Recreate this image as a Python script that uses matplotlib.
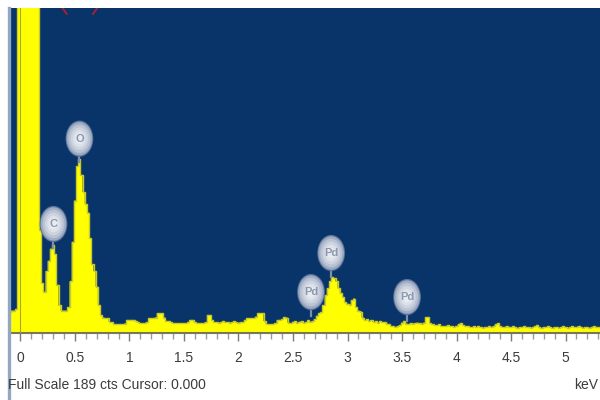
import numpy as np
import matplotlib
matplotlib.use("Agg")
import matplotlib.pyplot as plt
from matplotlib.patches import Ellipse
from matplotlib.lines import Line2D

# EDS spectrum: counts per 0.02 keV channel, starting at -0.10 keV
energy_start = -0.10
energy_step = 0.02
counts = [
    12, 13, 13, 14, 400, 400, 400, 400, 400, 400,
    400, 400, 400, 200, 60, 29, 24, 36, 42, 49,
    51, 46, 28, 16, 13, 13, 13, 15, 30, 53,
    77, 97, 101, 92, 82, 75, 70, 55, 40, 36,
    27, 16, 10.5, 9, 8.7, 8.5, 6.4, 6.4, 5, 5,
    5, 5, 5, 5.5, 7.6, 7.6, 7.6, 7.6, 7, 6.4,
    5.8, 5.8, 5.8, 6.4, 8.7, 8.7, 8.7, 9, 11.6, 11.6,
    11.6, 9, 7, 7, 6.4, 5.8, 5.8, 5.8, 5.8, 5.8,
    5.8, 5.8, 6.4, 7.6, 7.6, 6.4, 5.8, 5.8, 5.8, 5.8,
    6.4, 10.5, 10.5, 7.6, 6.4, 6.4, 6.0, 6.4, 7.0, 6.4,
    6.4, 6.0, 6.4, 6.8, 6.4, 6.0, 6.4, 6.4, 7.6, 8.7,
    8.7, 8.7, 8.7, 9.5, 11.6, 11.6, 11.6, 7, 5.2, 5.2,
    5.2, 5.2, 5.8, 7.6, 7.6, 8, 9.3, 9, 6, 5.8,
    6.5, 7, 6, 6.5, 7, 6, 6.4, 7.5, 6.5, 7,
    8, 10, 11.6, 12, 16, 22, 26, 30, 32.6, 32,
    30, 26, 23, 21, 18, 17, 16.5, 19, 20, 15,
    13, 12.5, 9, 7.5, 8, 7, 7.5, 6.4, 7, 6,
    7, 6.4, 6.4, 5.5, 5, 4, 4, 3.5, 4, 4.5,
    6, 7, 5.5, 5, 5.8, 5.5, 5.8, 6, 5.8, 5,
    6, 9.3, 9.3, 5.8, 5, 4.5, 4.5, 5, 4, 4,
    4, 4.5, 4, 4, 3.5, 4, 5, 5.8, 4.5, 4,
    4, 3.5, 3.5, 4, 3.5, 4, 3.5, 3, 3.5, 3.5,
    4, 3.5, 4, 5, 5.8, 4, 3.5, 3.5, 4, 3.5,
    3.5, 4, 3.5, 3, 3.5, 3.5, 4, 3.5, 3.5, 3,
    3.5, 4, 4.5, 3.5, 3, 3.5, 3.5, 4, 3.5, 3,
    3.5, 3.5, 3, 3.5, 4, 3.5, 3, 3.5, 4, 3.5,
    3.5, 4, 3.5, 3, 3.5, 3.5, 3, 3.5, 4, 3.5,
    3.5, 3.5,
]

# Element markers: label, energy (keV), marker height (counts)
elements = ["C", "O", "Pd", "Pd", "Pd"]
element_energy = [0.303, 0.541, 2.665, 2.85, 3.546]
element_height = [63.4, 113.0, 23.8, 46.5, 20.9]

full_scale = 189
cursor_keV = 0.0
tick_values = [0, 0.5, 1, 1.5, 2, 2.5, 3, 3.5, 4, 4.5, 5]
tick_labels = ["0", "0.5", "1", "1.5", "2", "2.5", "3", "3.5", "4", "4.5", "5"]

energy = energy_start + energy_step * np.arange(len(counts))
counts = np.array(counts, dtype=float)

narrow = ["Liberation Sans Narrow", "Liberation Sans", "DejaVu Sans"]

fig = plt.figure(figsize=(6, 4), dpi=100)
fig.patch.set_facecolor("white")
ax = fig.add_axes([10 / 600, 1 - 333 / 400, 590 / 600, (333 - 8) / 400])
ax.set_facecolor("#08346a")

ax.set_xlim(-0.096, 5.316)
ax.set_ylim(0, full_scale)

# spectrum
ax.fill_between(energy, 0, counts, step="mid", color="#ffff00", lw=0, zorder=2)
ax.step(energy, counts, where="mid", color="#c9c92a", lw=1.0, zorder=3)

# cursor line
ax.axvline(cursor_keV, color="#a6a622", lw=0.8, zorder=4)

# element label balloons
ew, eh = 0.235, 19.5
shades = ["#5d7499", "#9eabc2", "#b9c3d4", "#cdd4e0", "#dde2ea", "#e8ebf0"]
scales = [1.08, 1.0, 0.85, 0.68, 0.5, 0.32]
for lab, ex, ey in zip(elements, element_energy, element_height):
    ax.plot([ex, ex], [ey - eh / 2 - 4.0, ey - eh / 2], color="#7e8fab", lw=1.6, zorder=5)
    for s, c in zip(scales, shades):
        ax.add_patch(Ellipse((ex, ey), ew * s, eh * s, facecolor=c, edgecolor="none", zorder=6))
    ax.text(ex, ey, lab, ha="center", va="center", fontsize=8, color="#8a98b0",
            family=narrow, fontweight="bold", zorder=7)

# partial red marker at the top edge
for xs in ([0.385, 0.425], [0.705, 0.665]):
    ax.add_line(Line2D(xs, [189.0, 185.5], color="#b0202c", lw=1.3, zorder=5))

# axes styling
for side in ["top", "right", "left"]:
    ax.spines[side].set_visible(False)
ax.spines["bottom"].set_color("#77775a")
ax.spines["bottom"].set_linewidth(1.5)
ax.set_yticks([])
ax.set_xticks(tick_values)
ax.set_xticklabels(tick_labels, family=narrow, fontsize=10, color="#3c3c3c")
ax.set_xticks(np.arange(0, 5.31, 0.1), minor=True)
ax.tick_params(axis="x", which="major", length=6, width=1, color="#7a7a7a", pad=7)
ax.tick_params(axis="x", which="minor", length=4, width=1, color="#9a9a9a")

# left frame line
fig.add_artist(Line2D([8.5 / 600, 8.5 / 600], [0, 392 / 400], color="#94a7c0", lw=2.4))

fig.text(8 / 600, 1 - 385 / 400, f"Full Scale {full_scale} cts Cursor: {cursor_keV:.3f}",
         ha="left", va="center", fontsize=10, color="#3c3c3c", family=narrow)
fig.text(598 / 600, 1 - 385 / 400, "keV", ha="right", va="center", fontsize=10,
         color="#3c3c3c", family=narrow)

fig.savefig("out.png", dpi=100)
